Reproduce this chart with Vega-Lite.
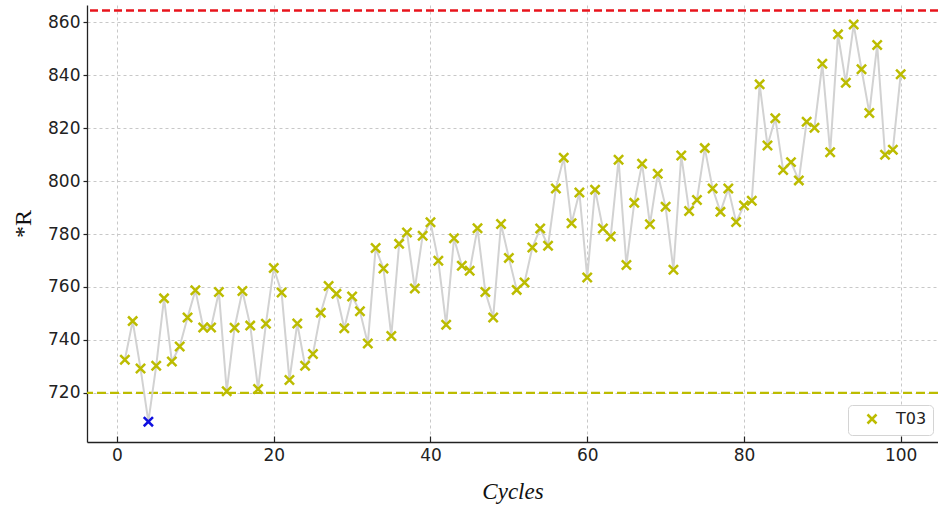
{
  "$schema": "https://vega.github.io/schema/vega-lite/v6.json",
  "width": 851,
  "height": 437,
  "autosize": {"type": "none"},
  "padding": {"left": 87, "top": 5, "right": 0, "bottom": 69},
  "background": "white",
  "config": {
    "view": {"stroke": null},
    "axis": {
      "domainColor": "#222222",
      "domainWidth": 1.3,
      "tickColor": "#222222",
      "tickWidth": 1.2,
      "labelFont": "DejaVu Sans",
      "labelFontSize": 17,
      "labelColor": "#222222",
      "grid": true,
      "gridColor": "#c8c8c8",
      "gridDash": [3, 3],
      "gridWidth": 1,
      "titleFontWeight": "normal",
      "titleColor": "#111111"
    }
  },
  "layer": [
    {
      "data": {"values": [{"limit": 864.5}]},
      "mark": {"type": "rule", "color": "#e8141c", "strokeWidth": 2.5, "strokeDash": [8, 4]},
      "encoding": {"y": {"field": "limit", "type": "quantitative", "scale": {"domain": [701.4, 866.6], "nice": false, "zero": false}}}
    },
    {
      "data": {"values": [{"limit": 720}]},
      "mark": {"type": "rule", "color": "#bcbc00", "strokeWidth": 2.2, "strokeDash": [9, 4]},
      "encoding": {"y": {"field": "limit", "type": "quantitative"}}
    },
    {
      "data": {"name": "main"},
      "mark": {"type": "line", "color": "#d2d2d2", "strokeWidth": 2},
      "encoding": {
        "x": {"field": "cycle", "type": "quantitative"},
        "y": {"field": "R", "type": "quantitative"}
      }
    },
    {
      "data": {"name": "main"},
      "mark": {"type": "point", "shape": "M-1,-1L1,1M-1,1L1,-1", "filled": false, "size": 85, "strokeWidth": 2.5, "opacity": 1},
      "encoding": {
        "x": {
          "field": "cycle",
          "type": "quantitative",
          "scale": {"domain": [-3.83, 104.76], "nice": false, "zero": false},
          "axis": {
            "title": "Cycles",
            "titleFont": "Liberation Serif",
            "titleFontStyle": "italic",
            "titleFontSize": 23,
            "titlePadding": 17,
            "values": [0, 20, 40, 60, 80, 100],
            "tickSize": -6,
            "labelPadding": 11
          }
        },
        "y": {
          "field": "R",
          "type": "quantitative",
          "scale": {"domain": [701.4, 866.6], "nice": false, "zero": false},
          "axis": {
            "title": "*R",
            "titleFont": "Liberation Serif",
            "titleFontSize": 24,
            "titlePadding": 12,
            "values": [720, 740, 760, 780, 800, 820, 840, 860],
            "tickSize": 4,
            "labelPadding": 3
          }
        },
        "color": {
          "condition": {"test": "datum.flag === 'low'", "value": "#1010e0"},
          "field": "series",
          "type": "nominal",
          "scale": {"domain": ["T03"], "range": ["#bcbc00"]},
          "legend": {
            "title": null,
            "orient": "none",
            "legendX": 761,
            "legendY": 400,
            "fillColor": "white",
            "strokeColor": "#d4d4d4",
            "cornerRadius": 4,
            "padding": 6,
            "symbolOffset": 10,
            "symbolType": "M-1,-1L1,1M-1,1L1,-1",
            "symbolSize": 81,
            "symbolStrokeWidth": 2.5,
            "labelOffset": 16,
            "labelFont": "DejaVu Sans",
            "labelFontSize": 16,
            "labelColor": "#222222"
          }
        }
      }
    }
  ],
  "datasets": {
    "main": [
      {"cycle": 1, "R": 732.5, "series": "T03", "flag": "normal"},
      {"cycle": 2, "R": 747.1, "series": "T03", "flag": "normal"},
      {"cycle": 3, "R": 729.2, "series": "T03", "flag": "normal"},
      {"cycle": 4, "R": 709.1, "series": "T03", "flag": "low"},
      {"cycle": 5, "R": 730.2, "series": "T03", "flag": "normal"},
      {"cycle": 6, "R": 755.7, "series": "T03", "flag": "normal"},
      {"cycle": 7, "R": 731.8, "series": "T03", "flag": "normal"},
      {"cycle": 8, "R": 737.5, "series": "T03", "flag": "normal"},
      {"cycle": 9, "R": 748.5, "series": "T03", "flag": "normal"},
      {"cycle": 10, "R": 758.8, "series": "T03", "flag": "normal"},
      {"cycle": 11, "R": 744.7, "series": "T03", "flag": "normal"},
      {"cycle": 12, "R": 744.7, "series": "T03", "flag": "normal"},
      {"cycle": 13, "R": 758.1, "series": "T03", "flag": "normal"},
      {"cycle": 14, "R": 720.6, "series": "T03", "flag": "normal"},
      {"cycle": 15, "R": 744.6, "series": "T03", "flag": "normal"},
      {"cycle": 16, "R": 758.5, "series": "T03", "flag": "normal"},
      {"cycle": 17, "R": 745.4, "series": "T03", "flag": "normal"},
      {"cycle": 18, "R": 721.4, "series": "T03", "flag": "normal"},
      {"cycle": 19, "R": 746.1, "series": "T03", "flag": "normal"},
      {"cycle": 20, "R": 767.2, "series": "T03", "flag": "normal"},
      {"cycle": 21, "R": 757.9, "series": "T03", "flag": "normal"},
      {"cycle": 22, "R": 724.8, "series": "T03", "flag": "normal"},
      {"cycle": 23, "R": 746.2, "series": "T03", "flag": "normal"},
      {"cycle": 24, "R": 730.2, "series": "T03", "flag": "normal"},
      {"cycle": 25, "R": 734.7, "series": "T03", "flag": "normal"},
      {"cycle": 26, "R": 750.3, "series": "T03", "flag": "normal"},
      {"cycle": 27, "R": 760.4, "series": "T03", "flag": "normal"},
      {"cycle": 28, "R": 757.4, "series": "T03", "flag": "normal"},
      {"cycle": 29, "R": 744.4, "series": "T03", "flag": "normal"},
      {"cycle": 30, "R": 756.4, "series": "T03", "flag": "normal"},
      {"cycle": 31, "R": 750.8, "series": "T03", "flag": "normal"},
      {"cycle": 32, "R": 738.6, "series": "T03", "flag": "normal"},
      {"cycle": 33, "R": 774.7, "series": "T03", "flag": "normal"},
      {"cycle": 34, "R": 767.0, "series": "T03", "flag": "normal"},
      {"cycle": 35, "R": 741.5, "series": "T03", "flag": "normal"},
      {"cycle": 36, "R": 776.3, "series": "T03", "flag": "normal"},
      {"cycle": 37, "R": 780.6, "series": "T03", "flag": "normal"},
      {"cycle": 38, "R": 759.4, "series": "T03", "flag": "normal"},
      {"cycle": 39, "R": 779.4, "series": "T03", "flag": "normal"},
      {"cycle": 40, "R": 784.5, "series": "T03", "flag": "normal"},
      {"cycle": 41, "R": 769.9, "series": "T03", "flag": "normal"},
      {"cycle": 42, "R": 745.7, "series": "T03", "flag": "normal"},
      {"cycle": 43, "R": 778.4, "series": "T03", "flag": "normal"},
      {"cycle": 44, "R": 768.0, "series": "T03", "flag": "normal"},
      {"cycle": 45, "R": 766.1, "series": "T03", "flag": "normal"},
      {"cycle": 46, "R": 782.2, "series": "T03", "flag": "normal"},
      {"cycle": 47, "R": 758.1, "series": "T03", "flag": "normal"},
      {"cycle": 48, "R": 748.5, "series": "T03", "flag": "normal"},
      {"cycle": 49, "R": 783.8, "series": "T03", "flag": "normal"},
      {"cycle": 50, "R": 771.0, "series": "T03", "flag": "normal"},
      {"cycle": 51, "R": 758.9, "series": "T03", "flag": "normal"},
      {"cycle": 52, "R": 761.7, "series": "T03", "flag": "normal"},
      {"cycle": 53, "R": 774.9, "series": "T03", "flag": "normal"},
      {"cycle": 54, "R": 782.1, "series": "T03", "flag": "normal"},
      {"cycle": 55, "R": 775.6, "series": "T03", "flag": "normal"},
      {"cycle": 56, "R": 797.2, "series": "T03", "flag": "normal"},
      {"cycle": 57, "R": 808.9, "series": "T03", "flag": "normal"},
      {"cycle": 58, "R": 784.1, "series": "T03", "flag": "normal"},
      {"cycle": 59, "R": 795.7, "series": "T03", "flag": "normal"},
      {"cycle": 60, "R": 763.6, "series": "T03", "flag": "normal"},
      {"cycle": 61, "R": 796.8, "series": "T03", "flag": "normal"},
      {"cycle": 62, "R": 782.1, "series": "T03", "flag": "normal"},
      {"cycle": 63, "R": 779.1, "series": "T03", "flag": "normal"},
      {"cycle": 64, "R": 808.1, "series": "T03", "flag": "normal"},
      {"cycle": 65, "R": 768.3, "series": "T03", "flag": "normal"},
      {"cycle": 66, "R": 791.8, "series": "T03", "flag": "normal"},
      {"cycle": 67, "R": 806.6, "series": "T03", "flag": "normal"},
      {"cycle": 68, "R": 783.7, "series": "T03", "flag": "normal"},
      {"cycle": 69, "R": 802.8, "series": "T03", "flag": "normal"},
      {"cycle": 70, "R": 790.3, "series": "T03", "flag": "normal"},
      {"cycle": 71, "R": 766.5, "series": "T03", "flag": "normal"},
      {"cycle": 72, "R": 809.7, "series": "T03", "flag": "normal"},
      {"cycle": 73, "R": 788.7, "series": "T03", "flag": "normal"},
      {"cycle": 74, "R": 792.9, "series": "T03", "flag": "normal"},
      {"cycle": 75, "R": 812.5, "series": "T03", "flag": "normal"},
      {"cycle": 76, "R": 797.2, "series": "T03", "flag": "normal"},
      {"cycle": 77, "R": 788.4, "series": "T03", "flag": "normal"},
      {"cycle": 78, "R": 797.2, "series": "T03", "flag": "normal"},
      {"cycle": 79, "R": 784.6, "series": "T03", "flag": "normal"},
      {"cycle": 80, "R": 790.8, "series": "T03", "flag": "normal"},
      {"cycle": 81, "R": 792.6, "series": "T03", "flag": "normal"},
      {"cycle": 82, "R": 836.6, "series": "T03", "flag": "normal"},
      {"cycle": 83, "R": 813.5, "series": "T03", "flag": "normal"},
      {"cycle": 84, "R": 823.8, "series": "T03", "flag": "normal"},
      {"cycle": 85, "R": 804.2, "series": "T03", "flag": "normal"},
      {"cycle": 86, "R": 807.2, "series": "T03", "flag": "normal"},
      {"cycle": 87, "R": 800.3, "series": "T03", "flag": "normal"},
      {"cycle": 88, "R": 822.5, "series": "T03", "flag": "normal"},
      {"cycle": 89, "R": 820.2, "series": "T03", "flag": "normal"},
      {"cycle": 90, "R": 844.4, "series": "T03", "flag": "normal"},
      {"cycle": 91, "R": 810.9, "series": "T03", "flag": "normal"},
      {"cycle": 92, "R": 855.5, "series": "T03", "flag": "normal"},
      {"cycle": 93, "R": 837.2, "series": "T03", "flag": "normal"},
      {"cycle": 94, "R": 859.2, "series": "T03", "flag": "normal"},
      {"cycle": 95, "R": 842.3, "series": "T03", "flag": "normal"},
      {"cycle": 96, "R": 825.8, "series": "T03", "flag": "normal"},
      {"cycle": 97, "R": 851.5, "series": "T03", "flag": "normal"},
      {"cycle": 98, "R": 810.0, "series": "T03", "flag": "normal"},
      {"cycle": 99, "R": 811.9, "series": "T03", "flag": "normal"},
      {"cycle": 100, "R": 840.4, "series": "T03", "flag": "normal"}
    ]
  }
}
